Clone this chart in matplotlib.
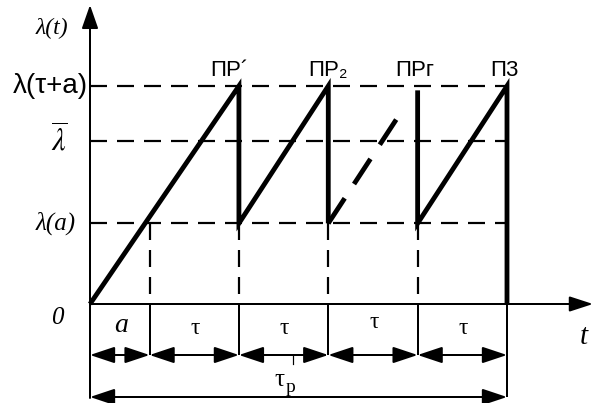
import matplotlib
matplotlib.use("Agg")
import matplotlib.pyplot as plt

plt.rcParams['lines.scale_dashes'] = False
plt.rcParams['mathtext.fontset'] = 'stix'

# ---- data (time in units, lambda normalised to lambda(tau+a)=1) ----
a = 1.0
tau = 1.5
t_marks = [0.0, 1.0, 2.5, 4.0, 5.5, 7.0]          # 0, a, PR1, PR2, PRg, P3
lam_a = 0.37      # lambda(a)
lam_bar = 0.75    # mean lambda
lam_max = 1.0     # lambda(tau+a)
ramp_dashed_end = (5.27, 0.90)   # where the dashed (omitted) ramp stops
prg_top = 0.98                   # top of the vertical at PRg

level_labels = ['λ(τ+a)', r'$\overline{\lambda}$', 'λ(a)']
top_labels = ['ПР´', 'ПР₂', 'ПРг', 'П3']
interval_labels = ['a', 'τ', 'τ', 'τ', 'τ']

# ---- figure / scale ----
W, H = 596, 403
fig = plt.figure(figsize=(W / 100, H / 100), dpi=100)
ax = fig.add_axes([0, 0, 1, 1])
px_t = 59.57      # pixels per time unit
px_l = 218.0      # pixels per lambda unit
x0, y0 = 90, 99   # origin in pixels from left / bottom
ax.set_xlim(-x0 / px_t, (W - x0) / px_t)
ax.set_ylim(-y0 / px_l, (H - y0) / px_l)
ax.axis('off')

P = 0.72  # px -> pt
THICK = 4.8 * P
THIN = 2.0 * P
DASH = (17 * P, 10 * P)
k = 'black'

def tp(px):   # pixel length -> time units
    return px / px_t

def lp(px):   # pixel length -> lambda units
    return px / px_l

# ---- axes with arrows ----
y_bottom = -lp(94)
ax.annotate('', xy=(0, lp(299)), xytext=(0, y_bottom),
            arrowprops=dict(arrowstyle=f'-|>,head_length={20*P},head_width={7*P}',
                            lw=THIN, color=k, shrinkA=0, shrinkB=0, mutation_scale=1))
ax.annotate('', xy=(tp(503), 0), xytext=(0, 0),
            arrowprops=dict(arrowstyle=f'-|>,head_length={20*P},head_width={6.5*P}',
                            lw=THIN, color=k, shrinkA=0, shrinkB=0, mutation_scale=1))

# ---- horizontal dashed level lines ----
for lv in (lam_max, lam_bar, lam_a):
    ax.plot([t_marks[0], t_marks[-1]], [lv, lv], color=k, lw=2.2 * P,
            dashes=DASH, solid_capstyle='butt', dash_capstyle='butt')

# ---- vertical dashed lines down to axis ----
for tm in t_marks[1:5]:
    ax.plot([tm, tm], [lam_a, 0], color=k, lw=2.2 * P, dashes=DASH,
            dash_capstyle='butt')

# ---- sawtooth (solid) ----
saw_t = [t_marks[0], t_marks[2], t_marks[2], t_marks[3], t_marks[3]]
saw_l = [0.0, lam_max, lam_a, lam_max, lam_a]
ax.plot(saw_t, saw_l, color=k, lw=THICK, solid_joinstyle='miter',
        solid_capstyle='butt')
# dashed omitted ramp
ax.plot([t_marks[3], ramp_dashed_end[0]], [lam_a, ramp_dashed_end[1]],
        color=k, lw=THICK, dashes=(30 * P, 17 * P), dash_capstyle='butt')
# last tooth
last_t = [t_marks[4], t_marks[4], t_marks[5], t_marks[5]]
last_l = [prg_top, lam_a, lam_max, 0.0]
ax.plot(last_t, last_l, color=k, lw=THICK, solid_joinstyle='miter',
        solid_capstyle='butt')

# ---- extension lines below the axis ----
y_arrow = -lp(51)
y_total = -lp(93)
for tm in t_marks[1:5]:
    ax.plot([tm, tm], [0, y_arrow], color=k, lw=THIN, solid_capstyle='butt')
ax.plot([t_marks[5], t_marks[5]], [0, y_total], color=k, lw=THIN,
        solid_capstyle='butt')

# ---- dimension arrows ----
dim_style = f'<|-|>,head_length={21*P},head_width={7*P}'
for i in range(len(t_marks) - 1):
    ax.annotate('', xy=(t_marks[i + 1], y_arrow), xytext=(t_marks[i], y_arrow),
                arrowprops=dict(arrowstyle=dim_style, lw=THIN, color=k,
                                shrinkA=0, shrinkB=0, mutation_scale=1))
ax.annotate('', xy=(t_marks[-1], y_total), xytext=(t_marks[0], y_total),
            arrowprops=dict(arrowstyle=dim_style, lw=THIN, color=k,
                            shrinkA=0, shrinkB=0, mutation_scale=1))
# small tick under the tau_p label
tick_t = (t_marks[2] + t_marks[3]) / 2 + tp(9)
ax.plot([tick_t, tick_t], [y_arrow, y_arrow - lp(9)], color=k, lw=1.2 * P)

# ---- texts ----
serif = 'Liberation Serif'
sans = 'Liberation Sans'

def label(txt, xy, off_px, **kw):
    ax.annotate(txt, xy=xy, xytext=(off_px[0] * P, off_px[1] * P),
                textcoords='offset points', **kw)

# y-axis title
label('λ(t)', (0, lam_max), (-38, 58), ha='center', va='center',
      fontsize=17, family=serif, style='italic')
# level labels
label(level_labels[0], (0, lam_max), (-2, 0), ha='right', va='center',
      fontsize=20, family=sans)
label(level_labels[1], (0, lam_bar), (-31, 0), ha='center', va='center',
      fontsize=22)
label(level_labels[2], (0, lam_a), (-34, 0), ha='center', va='center',
      fontsize=18, family=serif, style='italic')
# origin and t
label('0', (0, 0), (-33, -14), ha='center', va='center', fontsize=18,
      family=serif, style='italic')
label('t', (t_marks[-1], 0), (77, -33), ha='center', va='center', fontsize=21,
      family=serif, style='italic')
# top labels
top_off = [-10, 0, -3, -3]
for tm, txt, dx in zip(t_marks[2:], top_labels, top_off):
    label(txt, (tm, lam_max), (dx, 10), ha='center', va='baseline',
          fontsize=16, family=[sans, 'DejaVu Sans'])
# interval labels
int_dy = [-21, -24, -24, -19, -24]
for i, txt in enumerate(interval_labels):
    mid = (t_marks[i] + t_marks[i + 1]) / 2
    if txt == 'a':
        label(txt, (mid, 0), (1, int_dy[i]), ha='center', va='center',
              fontsize=20, family=serif, style='italic')
    else:
        label(txt, (mid, 0), (1, int_dy[i]), ha='center', va='center',
              fontsize=17, family=serif)
# total label tau_p
mid_all = (t_marks[2] + t_marks[3]) / 2
label('τ', (mid_all, y_total), (-4, 17), ha='center', va='center',
      fontsize=18, family=serif)
label('p', (mid_all, y_total), (7, 10), ha='center', va='center',
      fontsize=14, family=serif)

fig.savefig('out.png', dpi=100)
